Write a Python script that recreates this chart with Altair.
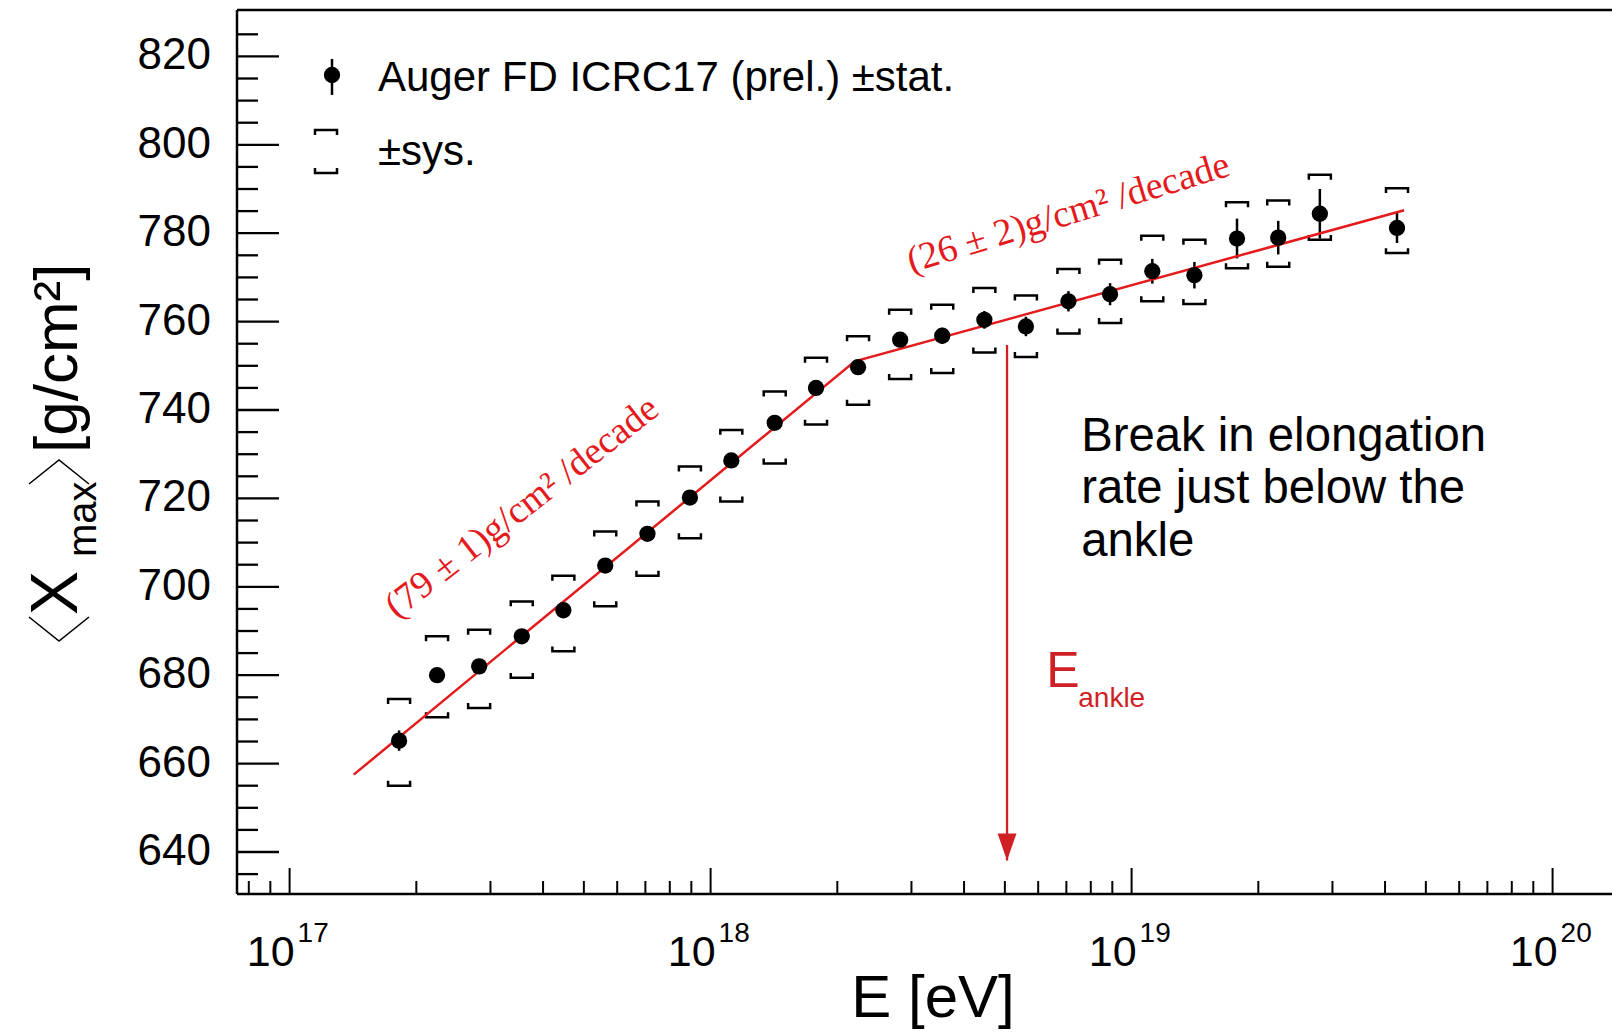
import altair as alt
import pandas as pd

# ---------------- data ----------------
energy_eV = [1.82e17, 2.24e17, 2.82e17, 3.56e17, 4.47e17, 5.62e17, 7.08e17, 8.93e17,
             1.12e18, 1.42e18, 1.78e18, 2.24e18, 2.82e18, 3.55e18, 4.47e18, 5.61e18,
             7.08e18, 8.89e18, 1.12e19, 1.41e19, 1.78e19, 2.23e19, 2.80e19, 4.27e19]
xmax_mean = [665.2, 680.0, 682.0, 688.8, 694.7, 704.8, 712.0, 720.2,
             728.6, 737.1, 745.0, 749.7, 755.9, 756.8, 760.4, 758.9,
             764.6, 766.2, 771.4, 770.5, 778.8, 779.0, 784.4, 781.2]
stat_err = [2.3, 1.2, 1.1, 1.0, 1.0, 1.0, 1.0, 1.1,
            1.2, 1.3, 1.4, 1.5, 1.7, 1.8, 2.0, 2.2,
            2.3, 2.5, 2.8, 3.0, 4.5, 3.8, 5.6, 3.4]
sys_upper = [674.6, 688.8, 690.3, 696.7, 702.5, 712.5, 719.3, 727.2,
             735.5, 744.2, 751.8, 756.7, 762.7, 763.8, 767.6, 765.9,
             771.9, 774.0, 779.4, 778.5, 787.0, 787.4, 793.2, 790.2]
sys_lower = [655.0, 670.5, 672.6, 679.4, 685.4, 695.6, 702.5, 711.0,
             719.3, 727.9, 736.7, 741.2, 747.0, 748.4, 753.0, 752.0,
             757.3, 759.7, 764.6, 764.0, 772.1, 772.4, 778.5, 775.5]

fit_energy = [1.42e17, 2.20e18, 4.44e19]
fit_xmax = [657.5, 751.0, 785.2]

slope_texts = ["(79 ± 1)g/cm² /decade", "(26 ± 2)g/cm² /decade"]
slope_anchor_E = [1.80e17, 3.00e18]
slope_anchor_xmax = [692.6, 771.0]

ankle_energy = [5.06e18]
ankle_arrow_top = [754.7]
ankle_arrow_tip = [638.1]
ankle_label_main = ["E"]
ankle_label_main_E = [6.27e18]
ankle_label_main_xmax = [677.4]
ankle_label_sub = ["ankle"]
ankle_label_sub_E = [7.47e18]
ankle_label_sub_xmax = [672.9]

break_lines = ["Break in elongation", "rate just below the", "ankle"]
break_anchor_E = [7.59e18]
break_anchor_xmax = [730.8]

legend_labels = ["Auger FD ICRC17 (prel.) ±stat.", "±sys."]

y_major_ticks = [640, 660, 680, 700, 720, 740, 760, 780, 800, 820]
y_tick_labels = ["640", "660", "680", "700", "720", "740", "760", "780", "800", "820"]
y_minor_ticks = [635, 645, 650, 655, 665, 670, 675, 685, 690, 695, 705, 710, 715,
                 725, 730, 735, 745, 750, 755, 765, 770, 775, 785, 790, 795,
                 805, 810, 815, 825]
x_major_ticks = [1e17, 1e18, 1e19, 1e20]
x_label_base = ["10", "10", "10", "10"]
x_label_exp = ["17", "18", "19", "20"]
x_minor_ticks = [8e16, 9e16,
                 2e17, 3e17, 4e17, 5e17, 6e17, 7e17, 8e17, 9e17,
                 2e18, 3e18, 4e18, 5e18, 6e18, 7e18, 8e18, 9e18,
                 2e19, 3e19, 4e19, 5e19, 6e19, 7e19, 8e19, 9e19]

# ---------------- styling ----------------
W, H = 1375, 884
SANS = "Liberation Sans, Arial, DejaVu Sans"
SERIF = "Liberation Serif, DejaVu Serif"
FIT_RED = "#e41a1c"
ARROW_RED = "#d11f26"

x_scale = alt.Scale(type="log", domain=[7.5e16, 1.384e20], nice=False)
y_scale = alt.Scale(domain=[630.5, 830.5], nice=False, zero=False)


def X(f):
    return alt.X(f"{f}:Q", scale=x_scale, axis=None)


def Y(f):
    return alt.Y(f"{f}:Q", scale=y_scale, axis=None)


one = pd.DataFrame({"k": [0]})

df = pd.DataFrame({
    "E": energy_eV, "xm": xmax_mean,
    "lo": [m - s for m, s in zip(xmax_mean, stat_err)],
    "hi": [m + s for m, s in zip(xmax_mean, stat_err)],
    "su": sys_upper, "sl": sys_lower,
})

# frame
top_line = alt.Chart(one).mark_rule(color="black", strokeWidth=2.5).encode(
    x=alt.value(0), x2=alt.value(W), y=alt.value(0))
left_line = alt.Chart(one).mark_rule(color="black", strokeWidth=2.5).encode(
    x=alt.value(0), y=alt.value(0), y2=alt.value(H))
bottom_line = alt.Chart(one).mark_rule(color="black", strokeWidth=2.5).encode(
    x=alt.value(0), x2=alt.value(W), y=alt.value(H))

# ticks (pointing inward)
ymaj = pd.DataFrame({"v": y_major_ticks, "lab": y_tick_labels})
ymin = pd.DataFrame({"v": y_minor_ticks})
xmaj = pd.DataFrame({"e": x_major_ticks, "b": x_label_base, "p": x_label_exp})
xmin = pd.DataFrame({"e": x_minor_ticks})

y_major = alt.Chart(ymaj).mark_rule(color="black", strokeWidth=2.3).encode(
    y=Y("v"), x=alt.value(0), x2=alt.value(42))
y_minor = alt.Chart(ymin).mark_rule(color="black", strokeWidth=2.3).encode(
    y=Y("v"), x=alt.value(0), x2=alt.value(21))
x_major = alt.Chart(xmaj).mark_rule(color="black", strokeWidth=2).encode(
    x=X("e"), y=alt.value(H), y2=alt.value(H - 26))
x_minor = alt.Chart(xmin).mark_rule(color="black", strokeWidth=2).encode(
    x=X("e"), y=alt.value(H), y2=alt.value(H - 13))

y_labels = alt.Chart(ymaj).mark_text(
    align="right", baseline="middle", fontSize=44, font=SANS, color="black").encode(
    y=Y("v"), x=alt.value(-26), text="lab:N")
x_labels_base = alt.Chart(xmaj).mark_text(
    align="right", baseline="alphabetic", fontSize=43, font=SANS, color="black", dx=5).encode(
    x=X("e"), y=alt.value(H + 72), text="b:N")
x_labels_exp = alt.Chart(xmaj).mark_text(
    align="left", baseline="alphabetic", fontSize=28, font=SANS, color="black", dx=8).encode(
    x=X("e"), y=alt.value(H + 48), text="p:N")

# axis titles
x_title = alt.Chart(one).mark_text(
    align="center", baseline="alphabetic", fontSize=60, font=SANS, color="black").encode(
    x=alt.value(696), y=alt.value(1007), text=alt.value("E [eV]"))


def ytitle_piece(txt, xpix, ypix, size):
    return alt.Chart(one).mark_text(
        align="left", baseline="alphabetic", angle=270, fontSize=size,
        font=SANS, color="black").encode(
        x=alt.value(xpix), y=alt.value(ypix), text=alt.value(txt))


def chevron(path, xpix, ypix):
    return alt.Chart(one).mark_point(
        shape=path, size=3600, filled=False, color="black", strokeWidth=1.6,
        opacity=1).encode(x=alt.value(xpix), y=alt.value(ypix))


y_title = [
    chevron("M-1,-0.4L0,0.4L1,-0.4", -178, 619),
    ytitle_piece("X", -160, 605, 66),
    ytitle_piece("max", -141, 547, 40),
    chevron("M-1,0.4L0,-0.4L1,0.4", -178, 462),
    ytitle_piece("[g/cm²]", -160, 443, 62),
]

# data layers
sys_top = alt.Chart(df).mark_point(
    shape="M-1,0.45L-1,0L1,0L1,0.45", size=484, filled=False, color="black",
    strokeWidth=2.5, opacity=1).encode(x=X("E"), y=Y("su"))
sys_bot = alt.Chart(df).mark_point(
    shape="M-1,-0.45L-1,0L1,0L1,-0.45", size=484, filled=False, color="black",
    strokeWidth=2.5, opacity=1).encode(x=X("E"), y=Y("sl"))
stat_bars = alt.Chart(df).mark_rule(color="black", strokeWidth=2.5).encode(
    x=X("E"), y=Y("lo"), y2=alt.Y2("hi"))
fit = alt.Chart(pd.DataFrame({"e": fit_energy, "v": fit_xmax})).mark_line(
    color=FIT_RED, strokeWidth=2.5).encode(x=X("e"), y=Y("v"))
dots = alt.Chart(df).mark_circle(size=265, color="black", opacity=1).encode(
    x=X("E"), y=Y("xm"))

# slope labels
slope_df = pd.DataFrame({"e": slope_anchor_E, "v": slope_anchor_xmax, "t": slope_texts})
slope1 = alt.Chart(slope_df.iloc[[0]]).mark_text(
    align="left", baseline="alphabetic", angle=322, fontSize=38, font=SERIF,
    color=FIT_RED).encode(x=X("e"), y=Y("v"), text="t:N")
slope2 = alt.Chart(slope_df.iloc[[1]]).mark_text(
    align="left", baseline="alphabetic", angle=343, fontSize=38, font=SERIF,
    color=FIT_RED).encode(x=X("e"), y=Y("v"), text="t:N")

# ankle arrow
ank = pd.DataFrame({"e": ankle_energy, "top": ankle_arrow_top, "tip": ankle_arrow_tip})
arrow_line = alt.Chart(ank).mark_rule(color=ARROW_RED, strokeWidth=2.3).encode(
    x=X("e"), y=Y("top"), y2=alt.Y2("tip"))
arrow_head = alt.Chart(ank).mark_point(
    shape="M-0.7,-1L0.7,-1L0,1Z", size=729, filled=True, color=ARROW_RED,
    opacity=1, strokeWidth=0, yOffset=-13.5).encode(x=X("e"), y=Y("tip"))
ank_main = alt.Chart(pd.DataFrame({"e": ankle_label_main_E, "v": ankle_label_main_xmax,
                                   "t": ankle_label_main})).mark_text(
    align="left", baseline="alphabetic", fontSize=50, font=SANS, color=ARROW_RED).encode(
    x=X("e"), y=Y("v"), text="t:N")
ank_sub = alt.Chart(pd.DataFrame({"e": ankle_label_sub_E, "v": ankle_label_sub_xmax,
                                  "t": ankle_label_sub})).mark_text(
    align="left", baseline="alphabetic", fontSize=28, font=SANS, color=ARROW_RED).encode(
    x=X("e"), y=Y("v"), text="t:N")

brk = alt.Chart(pd.DataFrame({"e": break_anchor_E, "v": break_anchor_xmax})).mark_text(
    align="left", baseline="alphabetic", fontSize=47.3, font=SANS, color="black",
    lineHeight=52.5).encode(x=X("e"), y=Y("v"), text=alt.value(break_lines))

# legend (pixel space)
leg_bar = alt.Chart(one).mark_rule(color="black", strokeWidth=2.5).encode(
    x=alt.value(95), y=alt.value(49), y2=alt.value(85))
leg_dot = alt.Chart(one).mark_circle(size=265, color="black", opacity=1).encode(
    x=alt.value(95), y=alt.value(65))
leg_top = alt.Chart(one).mark_point(
    shape="M-1,0.45L-1,0L1,0L1,0.45", size=484, filled=False, color="black",
    strokeWidth=2.5, opacity=1).encode(x=alt.value(89), y=alt.value(120))
leg_bot = alt.Chart(one).mark_point(
    shape="M-1,-0.45L-1,0L1,0L1,-0.45", size=484, filled=False, color="black",
    strokeWidth=2.5, opacity=1).encode(x=alt.value(89), y=alt.value(163))
leg_t1 = alt.Chart(one).mark_text(
    align="left", baseline="alphabetic", fontSize=42, font=SANS, color="black").encode(
    x=alt.value(141), y=alt.value(81), text=alt.value(legend_labels[0]))
leg_t2 = alt.Chart(one).mark_text(
    align="left", baseline="alphabetic", fontSize=42, font=SANS, color="black").encode(
    x=alt.value(141), y=alt.value(155), text=alt.value(legend_labels[1]))

chart = alt.layer(
    top_line, left_line, bottom_line,
    y_minor, y_major, x_minor, x_major,
    y_labels, x_labels_base, x_labels_exp, x_title, *y_title,
    sys_top, sys_bot, stat_bars, fit, dots,
    slope1, slope2,
    arrow_line, arrow_head, ank_main, ank_sub, brk,
    leg_bar, leg_dot, leg_top, leg_bot, leg_t1, leg_t2,
).properties(
    width=W, height=H,
    padding={"left": 237, "top": 10, "right": 0, "bottom": 136},
    autosize=alt.AutoSizeParams(type="none"),
    background="white",
).configure_view(strokeWidth=0)

chart.save("out.html", embed_options={"renderer": "svg", "actions": False})
